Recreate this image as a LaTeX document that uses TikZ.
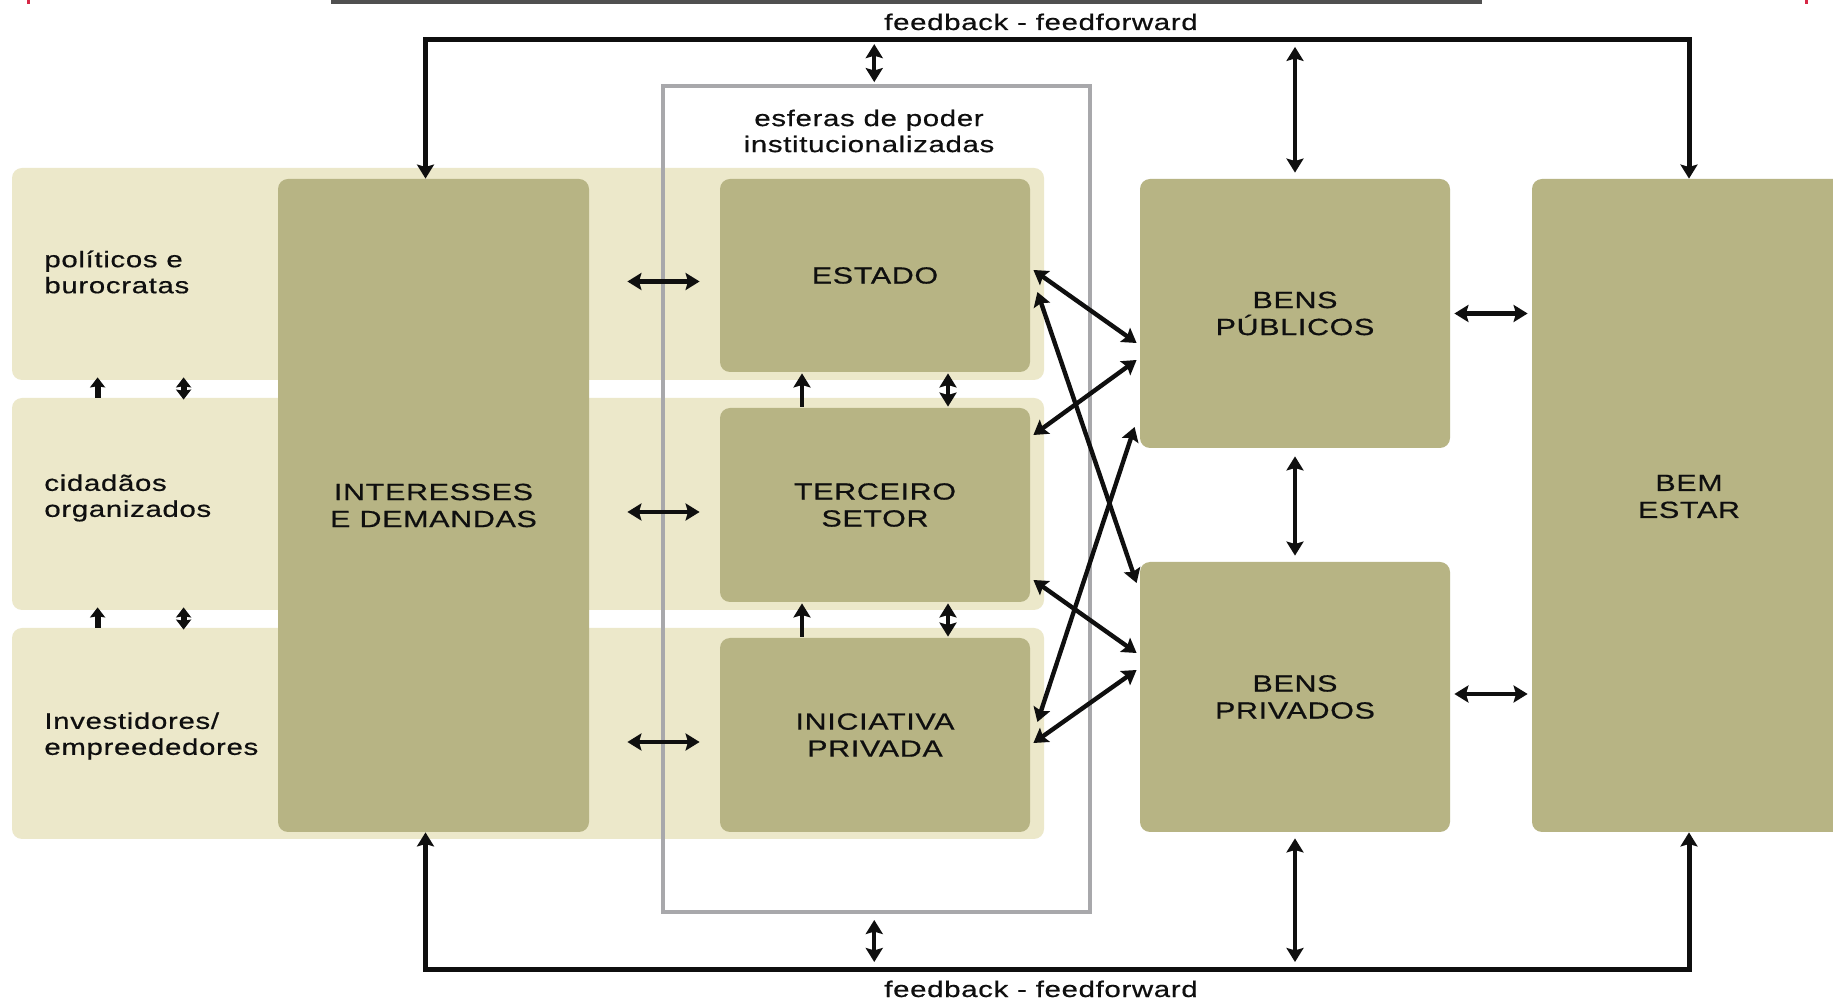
\documentclass[tikz,border=0pt]{standalone}
\usepackage{fontspec}
\setmainfont{Liberation Sans}
\newfontfamily\lbl[FakeStretch=1.3,LetterSpace=3,FakeBold=0.6]{Liberation Sans}
\usetikzlibrary{arrows.meta,calc}

\definecolor{boxdark}{RGB}{183,180,132}
\definecolor{bandlight}{RGB}{236,232,202}
\definecolor{framegray}{RGB}{168,168,171}
\definecolor{ink}{RGB}{15,15,15}
\definecolor{bardark}{RGB}{80,80,80}
\definecolor{markred}{RGB}{214,40,70}

\begin{document}
\begin{tikzpicture}[x=0.5pt,y=-0.5pt,
  >={Stealth[length=7pt,width=8.5pt,inset=1.2pt]},
  dark/.style={fill=boxdark, rounded corners=5pt, inner sep=0pt, align=center,
    text=ink, font=\lbl\fontsize{11.7}{13.5}\selectfont},
  band/.style={fill=bandlight, rounded corners=5pt, inner sep=0pt},
  side/.style={anchor=west, inner sep=0pt, align=left, text=ink,
    font=\lbl\fontsize{11.3}{13}\selectfont},
  small/.style={inner sep=0pt, align=center, text=ink,
    font=\lbl\fontsize{11.3}{13}\selectfont},
  frame/.style={draw=framegray, line width=2pt, inner sep=0pt},
  link/.style={line width=2.2pt, <->, draw=ink},
  push/.style={line width=2.2pt, ->, draw=ink},
  loopline/.style={line width=2.5pt, <->, draw=ink},
  stub/.style={line width=3pt, draw=ink,
    >={Stealth[length=5pt,width=7.5pt,inset=0.6pt]}}
]
\clip (0,0) rectangle (1833,999);
\fill[white] (0,0) rectangle (1833,999);

% header strip and corner marks
\fill[bardark] (331,0) rectangle (1482,4.5);
\fill[markred] (26.5,0) rectangle (30,4.5);
\fill[markred] (1804.5,0) rectangle (1808,4.5);

% light bands behind the actor rows
\node[band, minimum width=516pt, minimum height=106pt] (band1) at (528,274) {};
\node[band, minimum width=516pt, minimum height=106pt] (band2) at (528,504) {};
\node[band, minimum width=516pt, minimum height=105.5pt] (band3) at (528,733.5) {};

% frame of the institutional spheres
\node[frame, minimum width=213.25pt, minimum height=412.75pt] (sferas) at (876.25,499.25) {};
\node[small] (sferaslbl) at (869,131) {esferas de poder\\institucionalizadas};

% main blocks
\node[dark, minimum width=155.5pt, minimum height=326.5pt] (interesses) at (433.5,505.5) {INTERESSES\\E DEMANDAS};
\node[dark, minimum width=155pt, minimum height=96.5pt] (estado) at (875,275.5) {ESTADO};
\node[dark, minimum width=155pt, minimum height=97pt] (terceiro) at (875,505) {TERCEIRO\\SETOR};
\node[dark, minimum width=155pt, minimum height=97pt] (iniciativa) at (875,735) {INICIATIVA\\PRIVADA};
\node[dark, minimum width=155pt, minimum height=134.5pt] (bpub) at (1295,313.5) {BENS\\PÚBLICOS};
\node[dark, minimum width=155pt, minimum height=135pt] (bpriv) at (1295,697) {BENS\\PRIVADOS};
\node[dark, minimum width=157pt, minimum height=326.5pt] (bem) at (1689,505.5) {};
\node[dark, fill=none] (bemlbl) at (1689,496.5) {BEM\\ESTAR};

% actor labels
\node[side] (pol) at (44,272) {políticos e\\burocratas};
\node[side] (cid) at (44,498) {cidadãos\\organizados};
\node[side] (inv) at (44,736) {Investidores/\\empreededores};

% feedback labels
\node[small, anchor=base] (fbtop) at (1041,30) {feedback - feedforward};
\node[small, anchor=base] (fbbot) at (1041,997) {feedback - feedforward};

% feedback loop corners
\coordinate (tl) at (425.5,39.5);
\coordinate (tr) at (1689,39.5);
\coordinate (bl) at (425.5,969);
\coordinate (br) at (1689,969);

\draw[loopline] (interesses.north -| tl) -- (tl) -- (tr) -- (bem.north -| tr);
\draw[loopline] (interesses.south -| bl) -- (bl) -- (br) -- (bem.south -| br);

% links from the loop
\draw[link, shorten <=1.2pt, shorten >=2.3pt] ($(sferas.north)+(-2,0)$) -- ($(sferas.north |- tl)+(-2,0)$);
\draw[link, shorten <=3pt, shorten >=3.7pt] (bpub.north) -- (bpub.north |- tl);
\draw[link, shorten <=3pt, shorten >=3.5pt] ($(sferas.south)+(-2,0)$) -- ($(sferas.south |- bl)+(-2,0)$);
\draw[link, shorten <=3pt, shorten >=3.5pt] (bpriv.south) -- (bpriv.south |- bl);

% demands to the spheres
\draw[link, shorten <=19pt, shorten >=10pt] ($(interesses.east |- estado.west)+(0,6)$) -- ($(estado.west)+(0,6)$);
\draw[link, shorten <=19pt, shorten >=10pt] ($(interesses.east |- terceiro.west)+(0,7)$) -- ($(terceiro.west)+(0,7)$);
\draw[link, shorten <=19pt, shorten >=10pt] ($(interesses.east |- iniciativa.west)+(0,7)$) -- ($(iniciativa.west)+(0,7)$);

% between the spheres
\draw[push, shorten <=0.5pt, shorten >=0.5pt] ($(terceiro.north)+(-73,0)$) -- ($(estado.south)+(-73,0)$);
\draw[link, shorten <=0.5pt, shorten >=0.5pt] ($(terceiro.north)+(73,0)$) -- ($(estado.south)+(73,0)$);
\draw[push, shorten <=0.5pt, shorten >=0.5pt] ($(iniciativa.north)+(-73,0)$) -- ($(terceiro.south)+(-73,0)$);
\draw[link, shorten <=0.5pt, shorten >=0.5pt] ($(iniciativa.north)+(73,0)$) -- ($(terceiro.south)+(73,0)$);

% between the actor rows
\draw[stub, ->] ($(band2.north west)+(86,0)$) -- ($(band1.south west)+(86,-3)$);
\draw[stub, <->] ($(band2.north west)+(172,2)$) -- ($(band1.south west)+(172,-3)$);
\draw[stub, ->] ($(band3.north west)+(86,0)$) -- ($(band2.south west)+(86,-3)$);
\draw[stub, <->] ($(band3.north west)+(172,2)$) -- ($(band2.south west)+(172,-3)$);

% spheres to goods
\draw[link] ($(estado.east)+(3,-5.5)$) -- ($(bpub.west)+(-3,29.5)$);
\draw[link] ($(estado.east)+(7,16.5)$) -- ($(bpriv.west)+(-3,-114)$);
\draw[link] ($(terceiro.east)+(3,-70)$) -- ($(bpub.west)+(-3,46.5)$);
\draw[link] ($(terceiro.east)+(3,75)$) -- ($(bpriv.west)+(-3,-44)$);
\draw[link] ($(iniciativa.east)+(7,-13)$) -- ($(bpub.west)+(-5,113.5)$);
\draw[link] ($(iniciativa.east)+(3,8)$) -- ($(bpriv.west)+(-3,-27)$);

% goods to welfare
\draw[link, shorten <=4pt, shorten >=3pt] (bpub.south) -- (bpriv.north);
\draw[link, shorten <=2pt, shorten >=2pt] (bpub.east) -- (bpub.east -| bem.west);
\draw[link, shorten <=2pt, shorten >=2pt] ($(bpriv.east)+(0,-3)$) -- ($(bpriv.east -| bem.west)+(0,-3)$);
\end{tikzpicture}
\end{document}
